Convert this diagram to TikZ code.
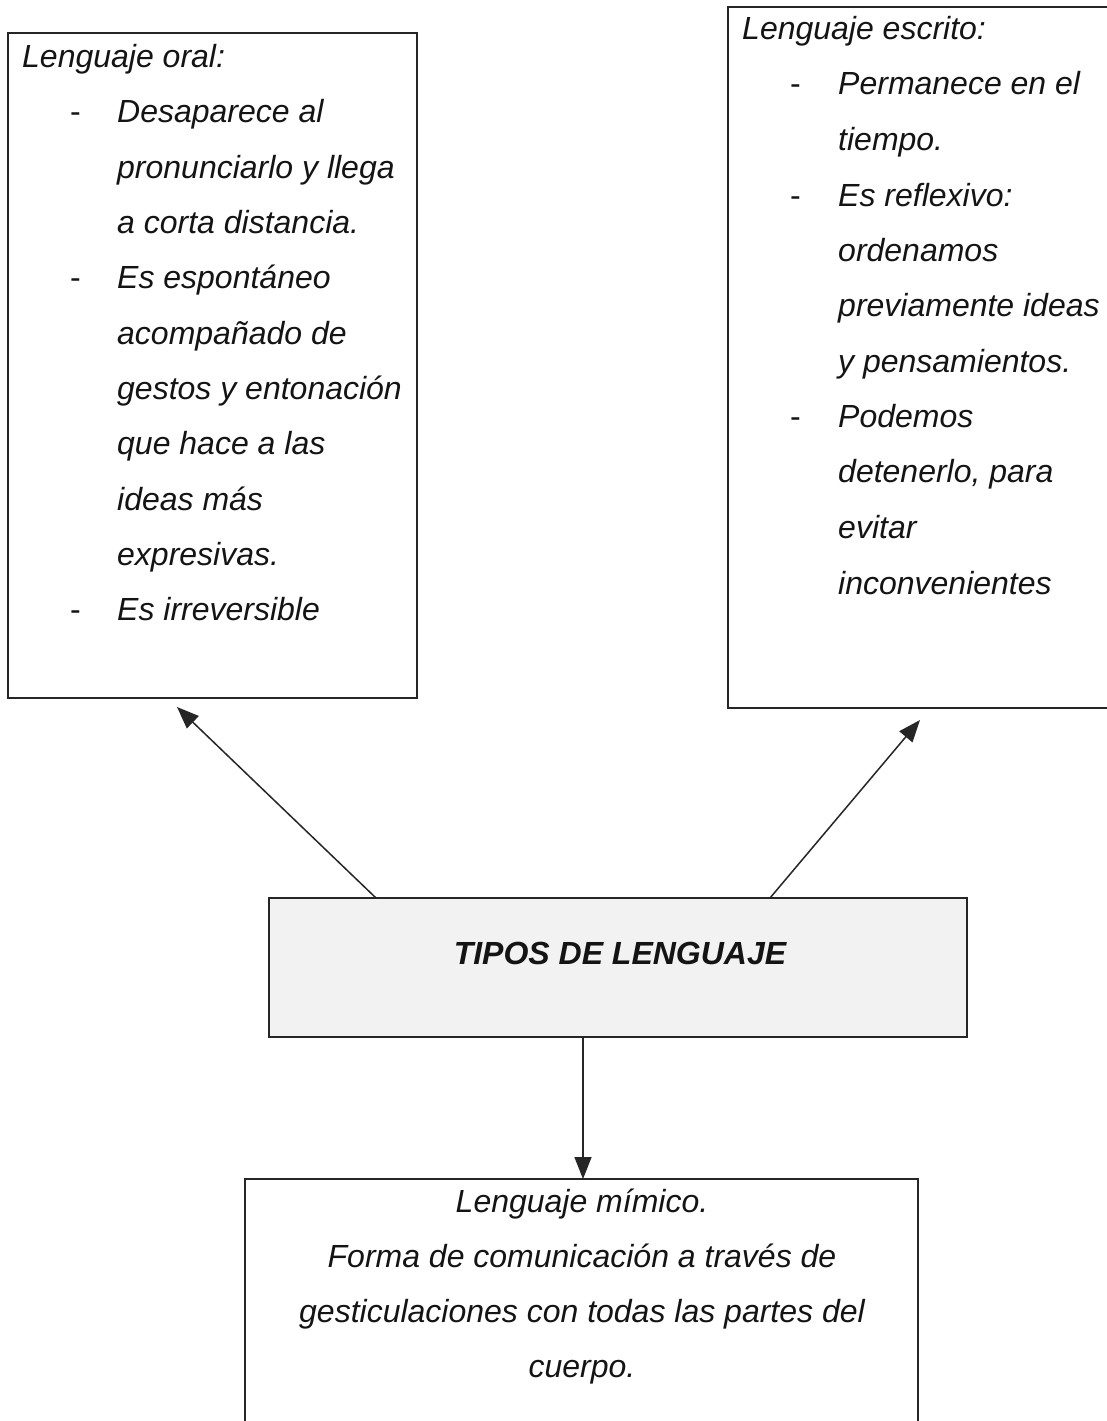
\documentclass[tikz,border=0pt]{standalone}
\usepackage{fontspec}
\setmainfont{Liberation Sans}
\usetikzlibrary{arrows.meta}
\begin{document}
\begin{tikzpicture}[x=1pt,y=-1pt,
  box/.style={draw=black!85, line width=1.5pt, inner sep=0pt, outer sep=0pt, anchor=north west},
  txt/.style={anchor=base west, inner sep=0pt, font=\fontsize{32}{38}\selectfont\itshape, text=black!92},
  ctxt/.style={anchor=base, inner sep=0pt, font=\fontsize{32}{38}\selectfont\itshape, text=black!92},
  dsh/.style={anchor=base west, inner sep=0pt, font=\fontsize{32}{38}\selectfont, text=black!92},
  conn/.style={draw=black!85, line width=1.5pt, -{Triangle[length=22pt,width=17pt]}}]
\useasboundingbox (0,0) rectangle (1107,1421);
\clip (0,0) rectangle (1107,1421);
\fill[white] (0,0) rectangle (1107,1421);

% boxes
\node[box, minimum width=409pt, minimum height=665pt] (oral) at (8,33) {};
\node[box, minimum width=420pt, minimum height=701pt] (escrito) at (728,7) {};
\node[box, fill=black!5, minimum width=698pt, minimum height=139pt] (tipos) at (269,898) {};
\node[box, minimum width=673pt, minimum height=280pt] (mimico) at (245,1179) {};

% left box text
\node[txt] (o0) at (22,67) {Lenguaje oral:};
\node[dsh] (od1) at (70,122) {-};
\node[txt] (o1) at (117,122) {Desaparece al};
\node[txt] (o2) at (117,178) {pronunciarlo y llega};
\node[txt] (o3) at (117,233) {a corta distancia.};
\node[dsh] (od2) at (70,288) {-};
\node[txt] (o4) at (117,288) {Es espontáneo};
\node[txt] (o5) at (117,344) {acompañado de};
\node[txt] (o6) at (117,399) {gestos y entonación};
\node[txt] (o7) at (117,454) {que hace a las};
\node[txt] (o8) at (117,510) {ideas más};
\node[txt] (o9) at (117,565) {expresivas.};
\node[dsh] (od3) at (70,620) {-};
\node[txt] (o10) at (117,620) {Es irreversible};

% right box text
\node[txt] (e0) at (742,40) {Lenguaje escrito:};
\node[dsh] (ed1) at (790,95) {-};
\node[txt] (e1) at (838,95) {Permanece en el};
\node[txt] (e2) at (838,150) {tiempo.};
\node[dsh] (ed2) at (790,206) {-};
\node[txt] (e3) at (838,206) {Es reflexivo:};
\node[txt] (e4) at (838,261) {ordenamos};
\node[txt] (e5) at (838,316) {previamente ideas};
\node[txt] (e6) at (838,372) {y pensamientos.};
\node[dsh] (ed3) at (790,427) {-};
\node[txt] (e7) at (838,427) {Podemos};
\node[txt] (e8) at (838,482) {detenerlo, para};
\node[txt] (e9) at (838,538) {evitar};
\node[txt] (e10) at (838,594) {inconvenientes};

% center text
\node[ctxt, font=\fontsize{32}{38}\selectfont\bfseries\itshape] (t0) at (620,964) {TIPOS DE LENGUAJE};

% bottom text
\node[ctxt] (m0) at (582,1212) {Lenguaje mímico.};
\node[ctxt] (m1) at (582,1267) {Forma de comunicación a través de};
\node[ctxt] (m2) at (582,1322) {gesticulaciones con todas las partes del};
\node[ctxt] (m3) at (582,1377) {cuerpo.};

% connectors
\coordinate (s1) at (376,898);
\coordinate (a1) at (177,707);
\coordinate (s2) at (770,898);
\coordinate (a2) at (920,720);
\coordinate (s3) at (583,1037);
\coordinate (a3) at (583,1179);
\draw[conn] (s1) -- (a1);
\draw[conn] (s2) -- (a2);
\draw[conn] (s3) -- (a3);
\end{tikzpicture}
\end{document}
